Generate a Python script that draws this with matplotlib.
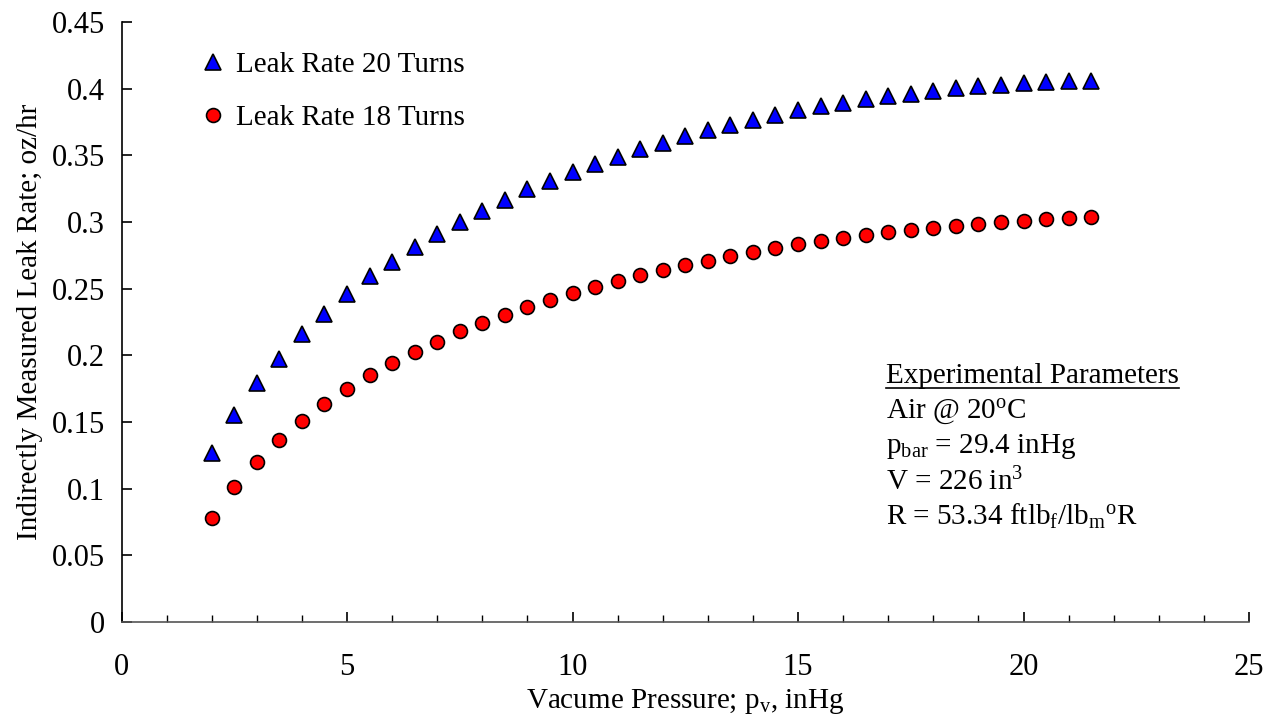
import numpy as np
import matplotlib
matplotlib.use("Agg")
from matplotlib import pyplot as plt
from matplotlib.lines import Line2D

plt.rcParams['font.family'] = ['Liberation Serif', 'DejaVu Serif']
plt.rcParams['mathtext.fontset'] = 'custom'
plt.rcParams['mathtext.rm'] = 'Liberation Serif'
plt.rcParams['mathtext.it'] = 'Liberation Serif'

# vacuum pressure, inHg
p_vac = np.arange(2.0, 22.0, 0.5)

leak_20 = [0.127, 0.155, 0.179, 0.197, 0.216, 0.231, 0.246, 0.2595, 0.270, 0.281,
           0.291, 0.300, 0.308, 0.3165, 0.325, 0.331, 0.3375, 0.3435, 0.349, 0.355,
           0.359, 0.3645, 0.369, 0.373, 0.3765, 0.380, 0.384, 0.387, 0.389, 0.392,
           0.3945, 0.396, 0.398, 0.4005, 0.402, 0.403, 0.404, 0.405, 0.406, 0.406]

leak_18 = [0.078, 0.101, 0.120, 0.1365, 0.151, 0.1635, 0.175, 0.185, 0.194, 0.2025,
           0.210, 0.218, 0.224, 0.230, 0.236, 0.2415, 0.247, 0.251, 0.256, 0.260,
           0.264, 0.268, 0.271, 0.2745, 0.2775, 0.2805, 0.2835, 0.286, 0.288, 0.290,
           0.2925, 0.294, 0.2955, 0.297, 0.2985, 0.300, 0.301, 0.302, 0.303, 0.304]

params = ["Air @ 20$^{\\mathrm{o}}$C",
          "p$_{\\mathrm{bar}}$ = 29.4 inHg",
          "V = 226 in$^{3}$",
          "R = 53.34 ftlb$_{\\mathrm{f}}$/lb$_{\\mathrm{m}}$$^{\\mathrm{o}}$R"]

fig = plt.figure(figsize=(12.82, 7.22), dpi=100)
ax = fig.add_axes([0.0948, 0.1385, 0.8795, 0.831])

ax.plot(p_vac, leak_20, ls='none', marker='^', ms=11, mfc='#0000ff', mec='black',
        mew=1.2, label='Leak Rate 20 Turns')
ax.plot(p_vac, leak_18, ls='none', marker='o', ms=10, mfc='#ff0000', mec='black',
        mew=1.2, label='Leak Rate 18 Turns')

ax.set_xlim(0, 25)
ax.set_ylim(0, 0.45)
ax.set_xticks(np.arange(0, 26, 5))
ax.set_xticks(np.arange(0, 26, 1), minor=True)
ax.set_yticks(np.arange(0, 0.451, 0.05))
ax.set_yticklabels(['0', '0.05', '0.1', '0.15', '0.2', '0.25', '0.3', '0.35', '0.4', '0.45'])
ax.tick_params(which='major', direction='in', length=7, width=1.2, labelsize=22, pad=12)
ax.tick_params(axis='x', which='major', pad=22)
ax.tick_params(which='minor', direction='in', length=5, width=1)
ax.spines['top'].set_visible(False)
ax.spines['right'].set_visible(False)
ax.spines['left'].set_linewidth(1.2)
ax.spines['bottom'].set_linewidth(1.2)
ax.spines['bottom'].set_color('#555555')

ax.set_xlabel('Vacume Pressure; p$_{\\mathrm{v}}$, inHg', fontsize=21, labelpad=4)
ax.set_ylabel('Indirectly Measured Leak Rate; oz/hr', fontsize=21, labelpad=6)

ax.legend(loc='upper left', bbox_to_anchor=(0.06, 0.97), frameon=False, fontsize=21,
          handlelength=0.8, handletextpad=0.4, labelspacing=0.9, borderaxespad=0)

title = ax.text(0.678, 0.41, 'Experimental Parameters', transform=ax.transAxes,
                fontsize=21, va='center', ha='left')
for i, line in enumerate(params):
    ax.text(0.678, 0.35 - i * 0.058, line, transform=ax.transAxes,
            fontsize=21, va='center', ha='left')

# underline the heading
fig.canvas.draw()
bb = title.get_window_extent().transformed(fig.transFigure.inverted())
fig.add_artist(Line2D([bb.x0, bb.x1], [bb.y0 + 0.002, bb.y0 + 0.002],
                      transform=fig.transFigure, color='black', lw=1.2))

fig.savefig('out.png', dpi=100)
